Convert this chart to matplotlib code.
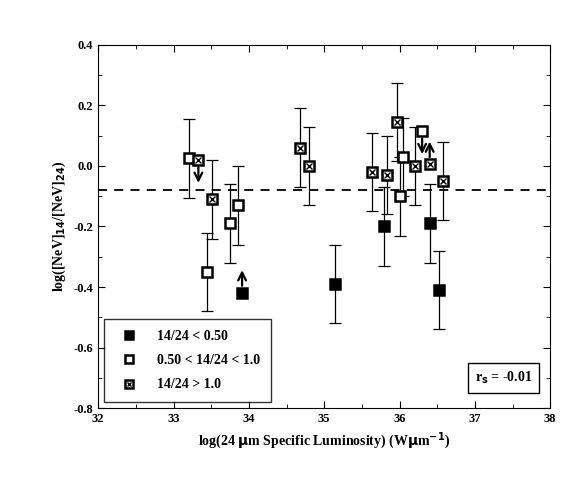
import matplotlib
matplotlib.use("Agg")
import matplotlib.pyplot as plt
from matplotlib.ticker import MultipleLocator

plt.rcParams['font.family'] = ['Liberation Serif']
plt.rcParams['font.weight'] = 'bold'

# 14/24 < 0.50 (filled); arrow: 1 = lower limit (up), -1 = upper limit (down)
fx = [33.91, 35.15, 35.80, 36.41, 36.53]
fy = [-0.42, -0.39, -0.20, -0.19, -0.41]
f_arrow = [1, 0, 0, 0, 0]
# 0.50 < 14/24 < 1.0 (open)
ox = [33.20, 33.45, 33.75, 33.85, 36.00, 36.05, 36.30]
oy = [0.025, -0.35, -0.19, -0.13, -0.10, 0.03, 0.115]
o_arrow = [0, 0, 0, 0, 0, 0, -1]
# 14/24 > 1.0 (crossed)
cx = [33.33, 33.51, 34.68, 34.80, 35.64, 35.83, 35.97, 36.20, 36.40, 36.58]
cy = [0.02, -0.11, 0.06, 0.00, -0.02, -0.03, 0.145, 0.00, 0.005, -0.05]
c_arrow = [-1, 0, 0, 0, 0, 0, 0, 0, 1, 0]
err = 0.13
mean_line = -0.08

fig = plt.figure(figsize=(5.81, 4.94), dpi=100)
ax = fig.add_axes([0.169, 0.174, 0.778, 0.735])

def bars(xs, ys, arrows):
    for x, y, a in zip(xs, ys, arrows):
        if a == 0:
            ax.errorbar(x, y, yerr=err, fmt='none', ecolor='black', elinewidth=0.9,
                        capsize=4, capthick=0.9, zorder=2)
        else:
            ax.annotate('', xy=(x, y + a * 0.085), xytext=(x, y + a * 0.015),
                        arrowprops=dict(arrowstyle='->', lw=1.6, color='black', mutation_scale=14))

bars(fx, fy, f_arrow)
bars(ox, oy, o_arrow)
bars(cx, cy, c_arrow)
kw = dict(linestyle='none', marker='s', ms=7, mec='black', mew=1.8, zorder=3)
h1, = ax.plot(fx, fy, mfc='black', **kw)
h2, = ax.plot(ox, oy, mfc='white', **kw)
h3, = ax.plot(cx, cy, mfc='white', **kw)
h4, = ax.plot(cx, cy, linestyle='none', marker='x', ms=4, mec='black', mew=1.0, zorder=4)

ax.axhline(mean_line, color='black', ls=(0, (5, 4)), lw=1.3)

ax.set_xlim(32, 38)
ax.set_ylim(-0.8, 0.4)
ax.xaxis.set_major_locator(MultipleLocator(1))
ax.xaxis.set_minor_locator(MultipleLocator(0.5))
ax.yaxis.set_major_locator(MultipleLocator(0.2))
ax.yaxis.set_minor_locator(MultipleLocator(0.1))
ax.tick_params(which='both', direction='in', top=True, right=True, labelsize=9)
ax.tick_params(which='major', length=5)
ax.tick_params(which='minor', length=3)
ax.set_yticklabels([f"{v:.1f}" for v in ax.get_yticks()])

ax.set_xlabel(r'log(24 $\mathbf{\mu}$m Specific Luminosity) (W$\mathbf{\mu}$m$^{\mathbf{-1}}$)', fontsize=10, fontweight='bold')
ax.set_ylabel(r'log([NeV]$_{\mathbf{14}}$/[NeV]$_{\mathbf{24}}$)', fontsize=10, fontweight='bold')

leg = ax.legend([h1, h2, (h3, h4)], ['14/24 < 0.50', '0.50 < 14/24 < 1.0', '14/24 > 1.0'],
                loc='lower left', frameon=True, fancybox=False, edgecolor='black',
                fontsize=10, handletextpad=1.0, borderpad=0.8, labelspacing=0.8, borderaxespad=0.4,
                markerscale=0.85)
leg.get_frame().set_linewidth(1.0)

ax.text(0.96, 0.06, r'r$_{\mathbf{s}}$ = -0.01', transform=ax.transAxes, ha='right', va='bottom', fontsize=10,
        bbox=dict(boxstyle='square,pad=0.5', fc='white', ec='black', lw=1.0))

fig.savefig('out.png', dpi=100)
